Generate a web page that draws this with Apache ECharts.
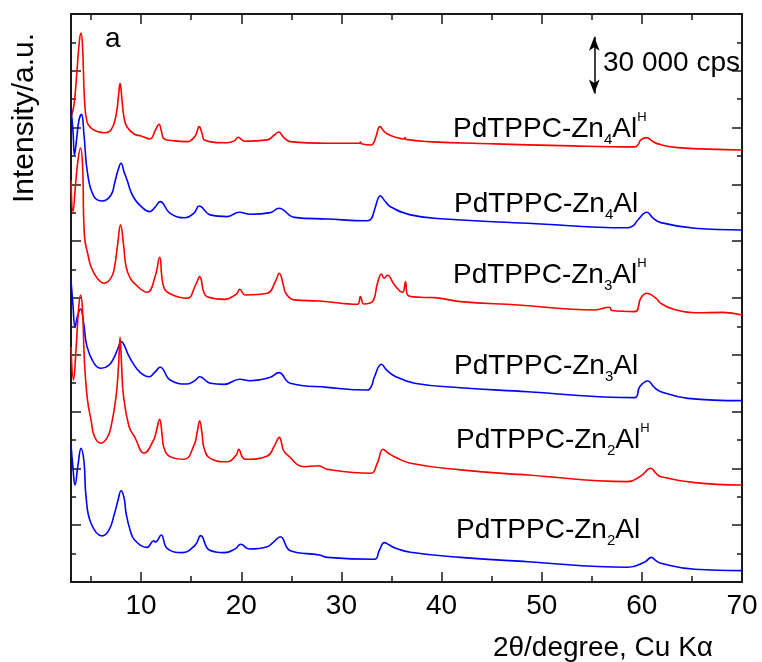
<!DOCTYPE html>
<html>
<head>
<meta charset="utf-8">
<title>XRD PdTPPC-ZnAl</title>
<script src="https://cdn.jsdelivr.net/npm/echarts@6.0.0/dist/echarts.min.js"></script>
<style>
    html, body { margin: 0; padding: 0; background: #fff; }
    #chart { width: 762px; height: 662px; }
</style>
</head>
<body>
<div id="chart"></div>
<script>
// diffractograms, stacked (2theta in degree, intensity in kcps incl. offset)
const zn4alH = [[3.0,245.8],[3.3,252],[3.6,270.4],[3.85,286.3],[4.0,290],[4.15,283.6],[4.35,254.6],[4.6,243],[5.0,239.8],[5.5,238.2],[6.3,237.3],[7.0,238.7],[7.5,246.7],[7.75,257.2],[7.9,263.4],[8.05,257.2],[8.3,245.1],[8.6,240.3],[9.3,236.6],[10.0,235.6],[10.9,234],[11.4,238.4],[11.8,241.8],[12.0,238.7],[12.3,234],[13.0,233.2],[14.6,232.6],[15.4,235.6],[15.8,240.5],[16.1,236.6],[16.3,233.5],[18.6,232],[19.3,233],[19.7,234.9],[20.3,232.8],[22.6,233.5],[23.3,236.1],[23.75,237.7],[24.2,235],[24.9,232.6],[28.6,231.7],[31.8,231.7],[31.9,232.4],[32.0,231.5],[33.0,230.8],[33.25,232.3],[33.45,235.2],[33.85,240.5],[34.2,238.4],[34.6,236.6],[35.5,234.8],[36.3,234],[36.35,234.8],[36.45,233.8],[38.6,232.6],[45.3,231.4],[51.9,230.5],[59.3,229.8],[59.65,231.2],[59.9,233.5],[60.5,234.7],[61.0,233],[61.6,231.4],[63.6,229.4],[70,228.2]]
const zn4al = [[3.0,250.2],[3.2,238],[3.35,225.5],[3.55,233.5],[3.8,244],[4.05,247],[4.3,236.1],[4.65,215.9],[5.3,203.5],[6.15,201.2],[7.0,204.4],[7.35,210.6],[7.7,217.6],[8.0,221.2],[8.3,216.6],[8.65,211.5],[8.95,206.5],[9.35,202.3],[9.95,198.6],[10.85,195.6],[11.4,198],[11.9,200.9],[12.9,194.7],[14.4,192.4],[15.3,195],[15.8,198.6],[16.9,193.9],[18.6,193],[19.8,195.3],[20.9,194.2],[22.9,195.1],[23.75,197.4],[25.3,192.6],[28.6,191.7],[32.6,190.8],[33.0,192],[33.3,196.5],[33.9,204],[34.3,201.5],[34.9,198.2],[36.9,193.9],[40.3,191.7],[48.6,189.5],[58.6,187.1],[59.2,188.5],[59.6,191.2],[60.5,195.3],[61.1,192.3],[61.9,189.8],[65.3,186.8],[70,185.9]]
const zn3alH = [[3.0,212.3],[3.2,195.6],[3.45,209.7],[3.7,222.9],[3.95,229.2],[4.15,220.3],[4.35,182.4],[4.7,172.7],[5.0,166.5],[5.6,160.6],[6.3,157.8],[7.0,160.6],[7.35,166.5],[7.65,178],[7.95,188.6],[8.25,178],[8.5,166.5],[8.9,160.6],[9.3,157.8],[10.6,153],[11.4,161.3],[11.85,171.5],[12.25,156],[13.0,152],[14.6,149.9],[15.45,156.9],[15.85,161.3],[16.25,153.2],[16.6,150.7],[18.3,149.3],[19.5,152],[19.85,154.6],[20.4,151.6],[22.6,152.5],[23.4,158.6],[23.8,163.1],[24.2,156.9],[24.45,152.5],[25.3,149],[27.8,148.4],[31.6,146.7],[31.9,150.7],[32.25,146.8],[33.1,148.1],[33.6,157.8],[34.0,162.7],[34.25,160.4],[34.6,162],[35.3,156.9],[36.1,153],[36.4,158.6],[36.6,151.6],[37.9,150.4],[39.3,150.2],[41.9,148.1],[47.6,146.3],[55.3,143.7],[56.75,145.1],[57.0,143.4],[59.3,142.8],[59.9,150],[60.5,152.5],[61.4,149.9],[61.9,147.2],[63.1,144.2],[65.3,142.2],[68.1,142.4],[70,141]]
const zn3al = [[3.0,159.5],[3.2,146],[3.4,134.8],[3.65,140.5],[3.95,144.2],[4.25,137.3],[4.6,124.3],[5.3,115.5],[6.0,112.9],[6.8,114.6],[7.35,119],[7.7,123.6],[8.05,126.9],[8.4,124.1],[8.65,120.8],[9.2,115.5],[9.95,110.4],[10.8,108.4],[11.4,111],[11.9,113.4],[12.9,106.7],[14.6,104.6],[15.4,106.5],[15.85,108.4],[16.9,105],[18.3,104.4],[19.85,107.1],[20.9,106.3],[22.9,108.1],[23.75,110.6],[24.9,105],[28.6,102.8],[32.6,101.4],[33.0,103.5],[33.3,108.4],[34.0,115],[34.5,112],[35.3,108.8],[37.3,105],[41.9,102.6],[48.6,100.5],[56.9,97.6],[59.3,97.4],[59.8,103.2],[60.6,106.2],[61.2,103],[61.9,100.5],[64.6,97],[70,95.8]]
const zn2alH = [[3.0,124.3],[3.25,106.7],[3.5,122.5],[3.75,143.7],[3.95,151.6],[4.15,143.7],[4.35,115.5],[4.65,96.1],[5.0,85.6],[5.35,76.7],[6.0,73.3],[6.6,76.1],[7.0,82],[7.5,97.9],[7.75,114.6],[7.9,129.3],[8.05,114.6],[8.25,97.9],[8.8,82],[9.35,76.7],[10.3,68],[11.25,75],[11.5,79.2],[11.85,85.9],[12.1,77.6],[12.25,71.5],[12.9,66.2],[14.3,64.8],[15.3,72.4],[15.6,79.2],[15.85,85.2],[16.1,77.6],[16.25,71.5],[16.9,65.3],[18.6,63.5],[19.5,67.1],[19.75,70.1],[20.1,66],[20.4,64.8],[22.6,66.6],[23.3,71.8],[23.8,76.4],[24.2,69.7],[24.6,67.1],[26.3,60.9],[27.7,61.4],[28.6,59.5],[32.9,57.4],[33.6,62.9],[34.15,70.1],[34.7,68],[35.3,66.2],[36.9,62.7],[41.9,59.2],[48.6,56.5],[58.6,53],[59.9,56],[60.9,60.1],[61.4,57.5],[61.9,55.6],[65.3,52.5],[70,51.2]]
const zn2al = [[3.0,72.4],[3.2,60],[3.4,51.2],[3.7,61.8],[4.0,70.6],[4.3,63.4],[4.5,45.1],[5.0,31],[6.1,24.3],[6.8,27.5],[7.35,36.3],[7.7,43.3],[8.0,48.2],[8.3,44.4],[8.5,36.3],[8.9,27.5],[9.35,22.2],[10.6,18.3],[11.25,21.8],[11.45,21.1],[12.0,24.8],[12.6,17.8],[14.1,15.5],[15.4,19.5],[15.95,24.5],[16.8,16.9],[18.3,15.5],[19.4,17.5],[19.95,19.9],[20.8,17.4],[22.6,18.6],[23.3,21.5],[23.9,23.9],[24.9,16.5],[27.8,14.3],[28.6,13],[33.3,12],[33.8,16.9],[34.3,20.8],[34.8,19.5],[35.3,18.1],[36.9,15.7],[41.9,13],[48.6,10.7],[58.6,7.8],[60.3,10.6],[60.95,13],[61.4,11.3],[61.9,9.9],[65.3,6.7],[70,6]]

// sample names: base, subscript, heated (H)
const sampleSub = ['4', '4', '3', '3', '2', '2']
const sampleHeated = [true, false, true, false, true, false]
const sampleColor = ['#ff0000', '#0000ff', '#ff0000', '#0000ff', '#ff0000', '#0000ff']

// scale bar: 30 000 cps = 30 kcps
const scaleBarAt = 55.25
const scaleBarFrom = 258
const scaleBarLen = 30

const FONT = '"Liberation Sans", Arial, Helvetica, sans-serif'
const AXIS_COLOR = '#1a1a1a'

const chartInstance = echarts.init(document.getElementById('chart'), null, {renderer: 'canvas'})

const allData = [zn4alH, zn4al, zn3alH, zn3al, zn2alH, zn2al]

// x axes (bottom with labels, top mirror)
function makeX(position, showLabel) {
    return {
        type: 'value',
        position: position,
        min: 3,
        max: 70,
        minInterval: 10,
        maxInterval: 10,
        axisLine: {show: true, onZero: false, lineStyle: {color: AXIS_COLOR, width: 2}},
        axisTick: {show: true, inside: true, length: 10, lineStyle: {color: AXIS_COLOR, width: 1.5}},
        minorTick: {show: true, splitNumber: 2, length: 6, lineStyle: {color: AXIS_COLOR, width: 1.5}},
        axisLabel: {
            show: showLabel,
            fontSize: 28,
            fontFamily: FONT,
            color: '#000',
            margin: 10,
            formatter: v => (v % 10 === 0 ? String(v) : '')
        },
        splitLine: {show: false}
    }
}

function makeY(position) {
    return {
        type: 'value',
        position: position,
        min: 0,
        max: 300,
        interval: 30,
        axisLine: {show: true, onZero: false, lineStyle: {color: AXIS_COLOR, width: 2}},
        axisTick: {show: true, inside: true, length: 10, lineStyle: {color: AXIS_COLOR, width: 1.5}},
        minorTick: {show: true, splitNumber: 2, length: 5, lineStyle: {color: AXIS_COLOR, width: 1.5}},
        axisLabel: {show: false},
        splitLine: {show: false}
    }
}

const series = allData.map((d, i) => ({
    type: 'line',
    xAxisIndex: 0,
    yAxisIndex: 0,
    data: d,
    showSymbol: false,
    smooth: 0.45,
    lineStyle: {color: sampleColor[i], width: 1.6},
    itemStyle: {color: sampleColor[i]},
    z: 2 + i
}))

// scale bar arrow
series[0].markLine = {
    silent: true,
    symbol: ['arrow', 'arrow'],
    symbolSize: [8, 14],
    lineStyle: {color: '#000', width: 1.5, type: 'solid'},
    label: {show: false},
    data: [[{coord: [scaleBarAt, scaleBarFrom]}, {coord: [scaleBarAt, scaleBarFrom + scaleBarLen]}]]
}

// sample labels (rich text with sub/superscripts)
const labelLeft = [453, 454, 453, 454, 456, 456]
const labelMid = [129, 204, 275, 366, 440, 530]
const rich = {
    m: {fontSize: 28, lineHeight: 36, fontFamily: FONT, fill: '#000'},
    b: {fontSize: 15, lineHeight: 15, verticalAlign: 'bottom', fontFamily: FONT, fill: '#000'},
    p: {fontSize: 13, lineHeight: 23, verticalAlign: 'top', fontFamily: FONT, fill: '#000'}
}
const graphics = sampleSub.map((s, i) => ({
    type: 'text',
    x: labelLeft[i],
    y: labelMid[i],
    silent: true,
    style: {
        text: '{m|PdTPPC-Zn}{b|' + s + '}{m|Al}' + (sampleHeated[i] ? '{p|H}' : ''),
        rich: rich,
        align: 'left',
        verticalAlign: 'middle'
    }
}))

graphics.push(
    {
        type: 'text', x: 105, y: 39, silent: true,
        style: {text: 'a', font: '28px ' + FONT, fill: '#000', align: 'left', verticalAlign: 'middle'}
    },
    {
        type: 'text', x: 603, y: 63, silent: true,
        style: {text: '30 000 cps', font: '28px ' + FONT, fill: '#000', align: 'left', verticalAlign: 'middle'}
    },
    {
        type: 'text', x: 603, y: 648, silent: true,
        style: {text: '2\u03b8/degree, Cu K\u03b1', font: '28px ' + FONT, fill: '#000', align: 'center', verticalAlign: 'middle'}
    },
    {
        type: 'text', x: 25, y: 118, rotation: Math.PI / 2, silent: true,
        style: {text: 'Intensity/a.u.', font: '30px ' + FONT, fill: '#000', align: 'center', verticalAlign: 'middle'}
    }
)

const option = {
    animation: false,
    backgroundColor: '#fff',
    grid: {left: 71, right: 20, top: 14, bottom: 80, containLabel: false},
    xAxis: [makeX('bottom', true), makeX('top', false)],
    yAxis: [makeY('left'), makeY('right')],
    series: series,
    graphic: graphics
}

chartInstance.setOption(option)
</script>
</body>
</html>
